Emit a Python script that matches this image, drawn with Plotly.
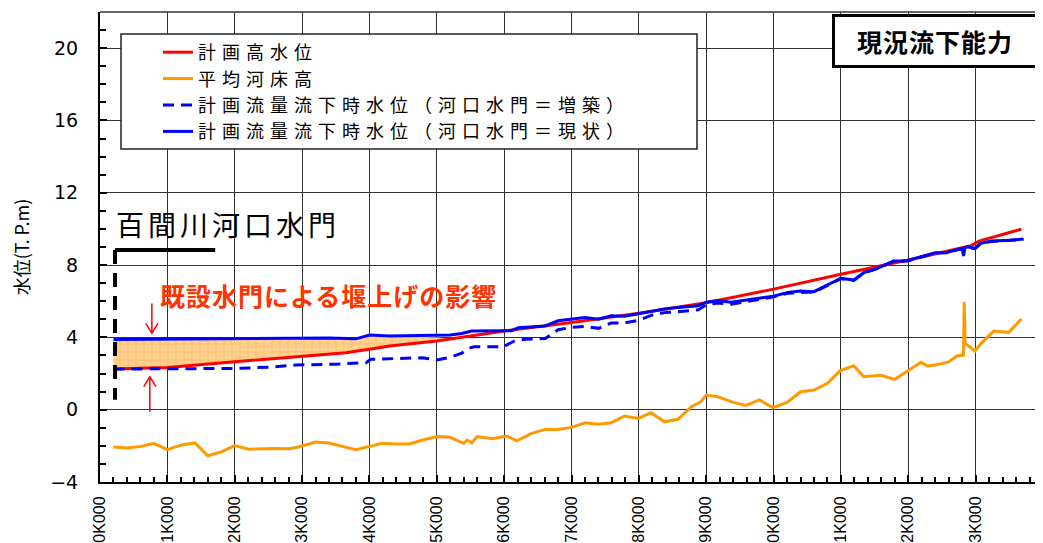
import plotly.graph_objects as go

# ---------------- data ----------------
tick_km = list(range(0, 15))
tick_labels = ["0K000", "1K000", "2K000", "3K000", "4K000", "5K000", "6K000", "7K000",
               "8K000", "9K000", "0K000", "1K000", "2K000", "3K000", "4K000"]

# 計画高水位
hwl_km = [0.2, 1.0, 2.0, 3.0, 3.65, 4.0, 4.3, 5.0, 6.0, 7.0, 8.0, 9.0, 10.0, 11.0, 12.0, 12.93, 13.05, 13.68]
hwl = [2.25, 2.34, 2.65, 2.97, 3.15, 3.34, 3.52, 3.8, 4.35, 4.82, 5.33, 5.92, 6.67, 7.49, 8.28, 9.07, 9.33, 9.99]

# 平均河床高
bed_km = [0.2, 0.41, 0.61, 0.8, 1.0, 1.21, 1.41, 1.6, 1.81, 2.0,
          2.21, 2.42, 2.61, 2.81, 2.93, 3.2, 3.4, 3.6, 3.8, 4.0,
          4.19, 4.39, 4.59, 4.78, 5.0, 5.18, 5.4, 5.45, 5.52, 5.6,
          5.82, 6.04, 6.19, 6.41, 6.61, 6.8, 7.0, 7.2, 7.4, 7.59,
          7.79, 7.99, 8.18, 8.38, 8.58, 8.78, 8.92, 9.0, 9.17, 9.39,
          9.59, 9.79, 9.99, 10.2, 10.4, 10.6, 10.8, 10.99, 11.19, 11.34,
          11.59, 11.8, 11.99, 12.19, 12.29, 12.4, 12.6, 12.72, 12.82, 12.83,
          12.845, 12.99, 13.09, 13.27, 13.49, 13.68]
bed = [-2.06, -2.12, -2.03, -1.86, -2.21, -1.95, -1.84, -2.55, -2.32, -1.99,
       -2.19, -2.16, -2.14, -2.16, -2.08, -1.79, -1.84, -2.03, -2.21, -2.03,
       -1.86, -1.9, -1.9, -1.69, -1.49, -1.51, -1.86, -1.68, -1.83, -1.49,
       -1.6, -1.46, -1.72, -1.31, -1.09, -1.09, -0.98, -0.72, -0.81, -0.72,
       -0.35, -0.48, -0.17, -0.67, -0.53, 0.17, 0.44, 0.81, 0.72, 0.42,
       0.24, 0.54, 0.11, 0.4, 0.99, 1.09, 1.46, 2.16, 2.43, 1.82,
       1.9, 1.68, 2.12, 2.62, 2.42, 2.47, 2.64, 2.97, 3.02, 5.97,
       3.67, 3.25, 3.7, 4.35, 4.28, 5.02]

# 計画流量流下時水位（河口水門＝増築）
imp_km = [0.2, 1.0, 2.0, 2.5, 2.9, 3.5, 3.95, 4.02, 4.59, 4.78,
          5.0, 5.2, 5.37, 5.47, 5.55, 5.99, 6.16, 6.31, 6.61, 6.8,
          6.99, 7.2, 7.4, 7.59, 7.79, 8.0, 8.18, 8.38, 8.58, 8.88,
          9.0, 9.17, 9.37, 9.57, 9.76, 10.0, 10.21, 10.5, 10.6, 10.8,
          11.0, 11.19, 11.34, 11.54, 11.78, 11.98, 12.18, 12.4, 12.57, 12.77,
          12.87, 12.99, 13.07, 13.24, 13.51, 13.71]
imp = [2.25, 2.26, 2.28, 2.35, 2.47, 2.52, 2.6, 2.79, 2.87, 2.87,
       2.75, 2.9, 3.13, 3.39, 3.48, 3.48, 3.82, 3.9, 3.94, 4.42,
       4.55, 4.6, 4.5, 4.8, 4.8, 4.95, 5.22, 5.37, 5.42, 5.52,
       5.8, 5.9, 5.84, 5.95, 6.08, 6.24, 6.44, 6.5, 6.5, 6.88,
       7.25, 7.15, 7.56, 7.8, 8.2, 8.22, 8.44, 8.66, 8.68, 8.9,
       8.99, 8.91, 9.18, 9.31, 9.36, 9.42]

# 計画流量流下時水位（河口水門＝現状）
cur_km = [0.2, 0.6, 1.0, 1.5, 2.0, 2.5, 3.0, 3.4, 3.8, 4.0,
          4.3, 4.6, 5.03, 5.2, 5.37, 5.52, 6.0, 6.11, 6.21, 6.61,
          6.8, 6.99, 7.2, 7.4, 7.59, 7.79, 8.0, 8.18, 8.38, 8.58,
          8.88, 9.0, 9.17, 9.37, 9.57, 9.76, 10.0, 10.21, 10.4, 10.6,
          10.8, 11.0, 11.19, 11.34, 11.54, 11.78, 11.98, 12.18, 12.4, 12.57,
          12.77, 12.8, 12.82, 12.84, 12.87, 12.99, 13.07, 13.24, 13.51, 13.71]
cur = [3.88, 3.89, 3.89, 3.9, 3.9, 3.92, 3.95, 3.96, 3.92, 4.13,
       4.08, 4.1, 4.1, 4.13, 4.22, 4.35, 4.37, 4.37, 4.53, 4.63,
       4.92, 5.0, 5.1, 5.0, 5.2, 5.17, 5.31, 5.44, 5.57, 5.66,
       5.75, 5.95, 6.04, 5.95, 6.05, 6.14, 6.28, 6.49, 6.56, 6.53,
       6.9, 7.27, 7.17, 7.58, 7.82, 8.22, 8.24, 8.46, 8.68, 8.7,
       8.93, 8.93, 8.5, 8.93, 9.01, 8.93, 9.2, 9.33, 9.38, 9.44]

# 堰上げ area
fill_km = [0.2, 1.0, 2.0, 3.0, 3.65, 4.0, 4.6, 5.0, 5.25]
fill_top = [3.86, 3.87, 3.88, 3.93, 3.94, 4.05, 4.05, 4.0, 3.93]
fill_bottom = [2.25, 2.34, 2.65, 2.97, 3.15, 3.34, 3.64, 3.8, 3.93]

names = ["計画高水位", "平均河床高",
         "計画流量流下時水位（河口水門＝増築）", "計画流量流下時水位（河口水門＝現状）"]

gate_km = 0.223
gate_bar_end = 1.71
gate_top = 8.83
gate_bottom = 0.55
arrow_down = (0.77, 5.88, 4.22)
arrow_up = (0.74, -0.11, 1.82)

# ---------------- figure ----------------
PAGE_OFF = 8  # default body margin of the html page
W, H = 1043 - PAGE_OFF, 543 - PAGE_OFF
ML, MR, MT = 100 - PAGE_OFF, 0, 12 - PAGE_OFF
MB = H - (482 - PAGE_OFF)
PW, PH = W - ML - MR, H - MT - MB


def px2paper_x(px):  # window pixel -> paper
    return (px - PAGE_OFF - ML) / PW


def px2paper_y(py):
    return (H - MB - (py - PAGE_OFF)) / PH


def spaced(text, px):
    return f"<span style='letter-spacing:{px}px'>{text}</span>"


JP = "Noto Sans CJK JP"

fig = go.Figure()

fig.add_trace(go.Scatter(
    x=fill_km + fill_km[::-1], y=fill_top + fill_bottom[::-1],
    fill="toself", mode="lines", line=dict(width=0, color="rgba(0,0,0,0)"),
    fillcolor="rgba(255,200,120,0.9)",
    fillpattern=dict(shape="+", fgcolor="#FF9F1A", bgcolor="#FFD090", size=8, solidity=0.15),
    showlegend=False, hoverinfo="skip"))

fig.add_trace(go.Scatter(x=hwl_km, y=hwl, mode="lines", name=spaced(names[0], 6),
                         line=dict(color="#FF0000", width=3)))
fig.add_trace(go.Scatter(x=bed_km, y=bed, mode="lines", name=spaced(names[1], 6),
                         line=dict(color="#FF9900", width=3)))
fig.add_trace(go.Scatter(x=imp_km, y=imp, mode="lines", name=spaced(names[2], 6),
                         line=dict(color="#0000FF", width=3, dash="11px,7px")))
fig.add_trace(go.Scatter(x=cur_km, y=cur, mode="lines", name=spaced(names[3], 6),
                         line=dict(color="#0000FF", width=3)))

shapes = []
# legend box
shapes.append(dict(type="rect", xref="paper", yref="paper",
                   x0=px2paper_x(121), x1=px2paper_x(697), y0=px2paper_y(149), y1=px2paper_y(34),
                   line=dict(color="#222", width=1.5), fillcolor="white", layer="above"))
# top frame
shapes.append(dict(type="line", xref="paper", yref="paper", x0=0, x1=1, y0=1, y1=1,
                   line=dict(color="#333", width=1.5)))
# gate bracket
shapes.append(dict(type="line", x0=gate_km, x1=gate_bar_end, y0=gate_top, y1=gate_top,
                   line=dict(color="black", width=4)))
shapes.append(dict(type="line", x0=gate_km, x1=gate_km, y0=gate_top, y1=gate_bottom,
                   line=dict(color="black", width=4, dash="14px,9px")))
# arrows
for (ax_, y_tail, y_tip) in (arrow_down, arrow_up):
    d = 0.55 if y_tip < y_tail else -0.55
    shapes.append(dict(type="path",
                       path=f"M {ax_},{y_tail} L {ax_},{y_tip} M {ax_-0.09},{y_tip+d} L {ax_},{y_tip} L {ax_+0.09},{y_tip+d}",
                       line=dict(color="#FF0000", width=1.5)))

annotations = [
    dict(x=gate_km - 0.02, y=10.25, xanchor="left", yanchor="middle", text=spaced("百間川河口水門", 4),
         showarrow=False, font=dict(family=JP, size=28, color="black")),
    dict(x=0.86, y=6.34, xanchor="left", yanchor="middle",
         text=spaced("<b>既設水門による堰上げの影響</b>", 1),
         showarrow=False, font=dict(family=JP, size=25, color="#FF3300")),
    dict(xref="paper", yref="paper", x=px2paper_x(934.5), y=px2paper_y(41),
         xanchor="center", yanchor="middle", text=spaced("<b>現況流下能力</b>", 1), showarrow=False,
         font=dict(family=JP, size=25, color="black"), bgcolor="white",
         bordercolor="black", borderwidth=3, borderpad=2, width=196, height=44),
]

fig.update_layout(
    width=W, height=H, margin=dict(l=ML, r=MR, t=MT, b=MB, autoexpand=False),
    paper_bgcolor="white", plot_bgcolor="white",
    shapes=shapes, annotations=annotations,
    legend=dict(x=px2paper_x(158), y=px2paper_y(34), xanchor="left", yanchor="top",
                bgcolor="rgba(0,0,0,0)", borderwidth=0,
                font=dict(family=JP, size=18, color="black"), tracegroupgap=0),
    xaxis=dict(range=[0, 14], tickvals=tick_km, ticktext=tick_labels, tickangle=-90,
               showline=True, linecolor="black", linewidth=2,
               showgrid=True, gridcolor="#333", gridwidth=1,
               ticks="inside", ticklen=7, tickcolor="black", tickwidth=1.5,
               minor=dict(dtick=0.2, ticks="inside", ticklen=5, tickcolor="black", tickwidth=1.5, showgrid=False),
               tickfont=dict(family="Liberation Sans", size=16, color="black"),
               ticklabelstandoff=6, ticklabeloverflow="allow", zeroline=False),
    yaxis=dict(range=[-4, 22], tickvals=[-4, 0, 4, 8, 12, 16, 20],
               showline=True, linecolor="black", linewidth=2,
               showgrid=True, gridcolor="#333", gridwidth=1,
               ticks="inside", ticklen=7, tickcolor="black", tickwidth=1.5,
               minor=dict(dtick=1, ticks="inside", ticklen=6, tickcolor="black", tickwidth=1.5, showgrid=False),
               tickfont=dict(family="DejaVu Sans", size=19, color="black"),
               ticklabelstandoff=16, zeroline=False,
               title=dict(text="水位(T. P.m)", font=dict(family=JP, size=18, color="black"), standoff=16)),
)

fig.write_html("out.html")
